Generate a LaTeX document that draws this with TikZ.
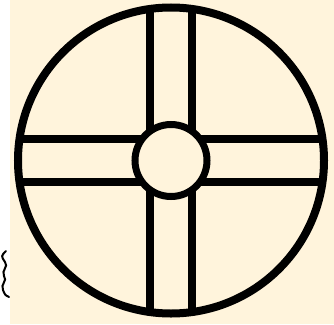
\documentclass[tikz,border=0pt]{standalone}
\usepackage[dvipsnames]{xcolor}
\definecolor{creme}{HTML}{FFF4DC}

\begin{document}
\begin{tikzpicture}[x=1pt,y=-1pt]
\useasboundingbox (0,0) rectangle (334,324);
%fond
\fill[creme] (10,0) rectangle (334,324);
\coordinate (c) at (171,160.5);

%bandes de la croix
\draw[line width=7.5pt] (150,6) -- (150,315);
\draw[line width=7.5pt] (192,6) -- (192,315);
\draw[line width=7.5pt] (19,139) -- (323,139);
\draw[line width=7.5pt] (19,182) -- (323,182);

%cercles
\draw[line width=7pt, fill=creme] (c) circle (36);
\draw[line width=8pt] (c) circle (153);

%trait coupé à gauche
\draw[line width=2pt, line cap=round] (6,251) .. controls (1,256) .. (5,262)
  .. controls (9,267) and (1,270) .. (4,276) .. controls (8,281) and (0,284) .. (3,290)
  .. controls (5,295) .. (9,297);
\end{tikzpicture}
\end{document}
